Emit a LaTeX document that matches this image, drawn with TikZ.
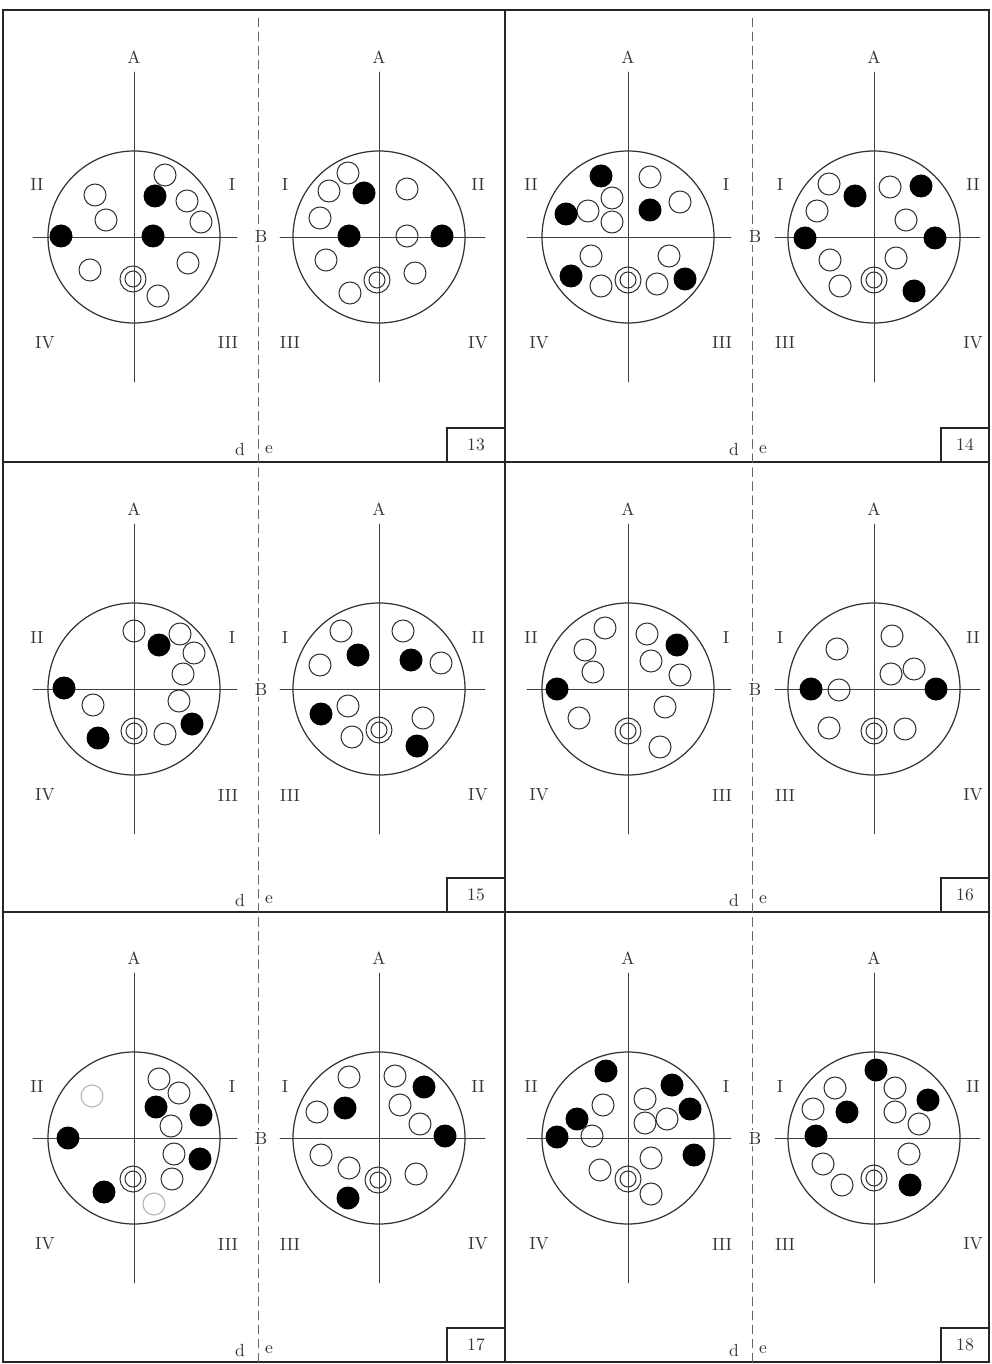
\documentclass[tikz,border=0pt]{standalone}
\begin{document}
\begin{tikzpicture}[x=0.02cm,y=-0.02cm,line cap=round,
  lbl/.style={text=black!80,inner sep=1pt},
  axis/.style={black!75,line width=0.5pt},
  rim/.style={black!80,line width=0.7pt},
  hole/.style={black!80,line width=0.6pt},
  frame/.style={black!85,line width=1pt}]
\useasboundingbox (0,0) rectangle (991,1364);
% 外框
\draw[frame] (3,10) rectangle (989,1362);
\draw[frame] (505,10) -- (505,1362) (3,462) -- (989,462) (3,912) -- (989,912);
% 虚线 d|e
\foreach \x in {258,752}
  \draw[black!60,line width=0.5pt,dash pattern=on 5pt off 3pt] (\x,18) -- (\x,1362);
% 编号框
\foreach \n/\bx/\rx/\by in {13/447/505/462,14/941/989/462,15/447/505/912,
                             16/941/989/912,17/447/505/1362,18/941/989/1362}{
  \draw[frame] (\bx,\by) |- (\rx,\by-34);
  \node[lbl] (num\n) at ({(\bx+\rx)/2},\by-17) {\n};
}
\foreach \x in {0,494}
  \foreach \y in {462,912,1362}{
    \node[lbl] (d-\x-\y) at (240+\x,\y-12) {d};
    \node[lbl] (e-\x-\y) at (269+\x,\y-12) {e};
  }
\foreach \x in {258,752}
  \foreach \y in {237,689,1138}
    \node[lbl,fill=white] (B-\x-\y) at (\x+3,\y) {B};
% 左图 d
\foreach \cx/\cy in {134/237,628/237,134/689,628/689,134/1138,628/1138}{
  \draw[axis] (\cx-101,\cy) -- (\cx+103,\cy);
  \draw[axis] (\cx,\cy-165) -- (\cx,\cy+145);
  \draw[rim] (\cx,\cy) circle (86);
  \node[lbl] (A-\cx-\cy) at (\cx,\cy-180) {A};
  \node[lbl] (q2-\cx-\cy) at (\cx-97,\cy-52) {II};
  \node[lbl] (q1-\cx-\cy) at (\cx+98,\cy-52) {I};
  \node[lbl] (q4-\cx-\cy) at (\cx-89,\cy+106) {IV};
  \node[lbl] (q3-\cx-\cy) at (\cx+94,\cy+106) {III};
}
% 右图 e
\foreach \cx/\cy in {379/237,874/237,379/689,874/689,379/1138,874/1138}{
  \draw[axis] (\cx-99,\cy) -- (\cx+106,\cy);
  \draw[axis] (\cx,\cy-165) -- (\cx,\cy+145);
  \draw[rim] (\cx,\cy) circle (86);
  \node[lbl] (A-\cx-\cy) at (\cx,\cy-180) {A};
  \node[lbl] (q1-\cx-\cy) at (\cx-94,\cy-52) {I};
  \node[lbl] (q2-\cx-\cy) at (\cx+99,\cy-52) {II};
  \node[lbl] (q3-\cx-\cy) at (\cx-89,\cy+106) {III};
  \node[lbl] (q4-\cx-\cy) at (\cx+99,\cy+106) {IV};
}
% 13 d
\begin{scope}[shift={(134,237)}]
\foreach \x/\y in {31/-62,-39/-42,-28/-17,53/-36,67/-15,-44/33,54/26,24/59}
  \draw[hole] (\x,\y) circle (11);
\foreach \x/\y in {21/-41,19/-1,-73/-1}
  \fill (\x,\y) circle (11.5);
\draw[hole] (-1,42) circle (13) (-1,42) circle (8);
\end{scope}
% 13 e
\begin{scope}[shift={(379,237)}]
\foreach \x/\y in {-31/-64,-50/-46,-59/-19,-53/23,-29/56,28/-48,28/-1,36/36}
  \draw[hole] (\x,\y) circle (11);
\foreach \x/\y in {-15/-44,-30/-1,63/-1}
  \fill (\x,\y) circle (11.5);
\draw[hole] (-2,43) circle (13) (-2,43) circle (8);
\end{scope}
% 14 d
\begin{scope}[shift={(628,237)}]
\foreach \x/\y in {-16/-39,-40/-26,-16/-15,22/-60,52/-35,-37/19,-27/49,41/19,29/47}
  \draw[hole] (\x,\y) circle (11);
\foreach \x/\y in {-27/-61,-62/-23,22/-27,-57/39,57/42}
  \fill (\x,\y) circle (11.5);
\draw[hole] (0,43) circle (13) (0,43) circle (8);
\end{scope}
% 14 e
\begin{scope}[shift={(874,237)}]
\foreach \x/\y in {-45/-53,-57/-26,16/-50,32/-17,-44/23,22/21,-34/49}
  \draw[hole] (\x,\y) circle (11);
\foreach \x/\y in {-19/-41,47/-51,-69/1,61/1,40/54}
  \fill (\x,\y) circle (11.5);
\draw[hole] (0,43) circle (13) (0,43) circle (8);
\end{scope}
% 15 d
\begin{scope}[shift={(134,689)}]
\foreach \x/\y in {0/-58,46/-55,60/-36,49/-15,-41/16,45/12,31/45}
  \draw[hole] (\x,\y) circle (11);
\foreach \x/\y in {25/-44,-70/-1,-36/49,58/35}
  \fill (\x,\y) circle (11.5);
\draw[hole] (0,42) circle (13) (0,42) circle (8);
\end{scope}
% 15 e
\begin{scope}[shift={(379,689)}]
\foreach \x/\y in {-38/-58,-59/-24,24/-58,62/-26,-31/17,-27/48,44/29}
  \draw[hole] (\x,\y) circle (11);
\foreach \x/\y in {-21/-34,32/-29,-58/25,38/57}
  \fill (\x,\y) circle (11.5);
\draw[hole] (0,41) circle (13) (0,41) circle (8);
\end{scope}
% 16 d
\begin{scope}[shift={(628,689)}]
\foreach \x/\y in {-23/-61,-43/-39,-35/-17,19/-55,23/-28,52/-14,-49/29,37/18,32/58}
  \draw[hole] (\x,\y) circle (11);
\foreach \x/\y in {49/-44,-71/0}
  \fill (\x,\y) circle (11.5);
\draw[hole] (0,42) circle (13) (0,42) circle (8);
\end{scope}
% 16 e
\begin{scope}[shift={(874,689)}]
\foreach \x/\y in {-37/-40,18/-53,17/-15,40/-20,-35/1,-45/39,31/40}
  \draw[hole] (\x,\y) circle (11);
\foreach \x/\y in {-63/0,62/0}
  \fill (\x,\y) circle (11.5);
\draw[hole] (0,42) circle (13) (0,42) circle (8);
\end{scope}
% 17 d
\begin{scope}[shift={(134,1138)}]
\foreach \x/\y in {25/-59,45/-45,37/-12,40/16,38/41}
  \draw[hole] (\x,\y) circle (11);
\foreach \x/\y in {-42/-42,20/66}
  \draw[hole,black!30] (\x,\y) circle (11);
\foreach \x/\y in {22/-31,67/-23,-66/0,66/21,-30/54}
  \fill (\x,\y) circle (11.5);
\draw[hole] (-1,41) circle (13) (-1,41) circle (8);
\end{scope}
% 17 e
\begin{scope}[shift={(379,1138)}]
\foreach \x/\y in {-30/-61,-62/-26,16/-62,21/-33,41/-14,-58/17,-30/30,37/36}
  \draw[hole] (\x,\y) circle (11);
\foreach \x/\y in {-34/-30,45/-51,66/-2,-31/60}
  \fill (\x,\y) circle (11.5);
\draw[hole] (-1,42) circle (13) (-1,42) circle (8);
\end{scope}
% 18 d
\begin{scope}[shift={(628,1138)}]
\foreach \x/\y in {-25/-33,17/-39,17/-15,39/-19,-36/-2,-28/32,23/20,23/56}
  \draw[hole] (\x,\y) circle (11);
\foreach \x/\y in {-22/-67,44/-53,62/-29,-51/-19,-71/-1,66/17}
  \fill (\x,\y) circle (11.5);
\draw[hole] (0,41) circle (13) (0,41) circle (8);
\end{scope}
% 18 e
\begin{scope}[shift={(874,1138)}]
\foreach \x/\y in {-39/-50,-61/-29,21/-50,21/-26,45/-14,-51/26,-32/47,35/16}
  \draw[hole] (\x,\y) circle (11);
\foreach \x/\y in {2/-68,54/-38,-27/-26,-58/-2,36/47}
  \fill (\x,\y) circle (11.5);
\draw[hole] (0,40) circle (13) (0,40) circle (8);
\end{scope}
\end{tikzpicture}
\end{document}
